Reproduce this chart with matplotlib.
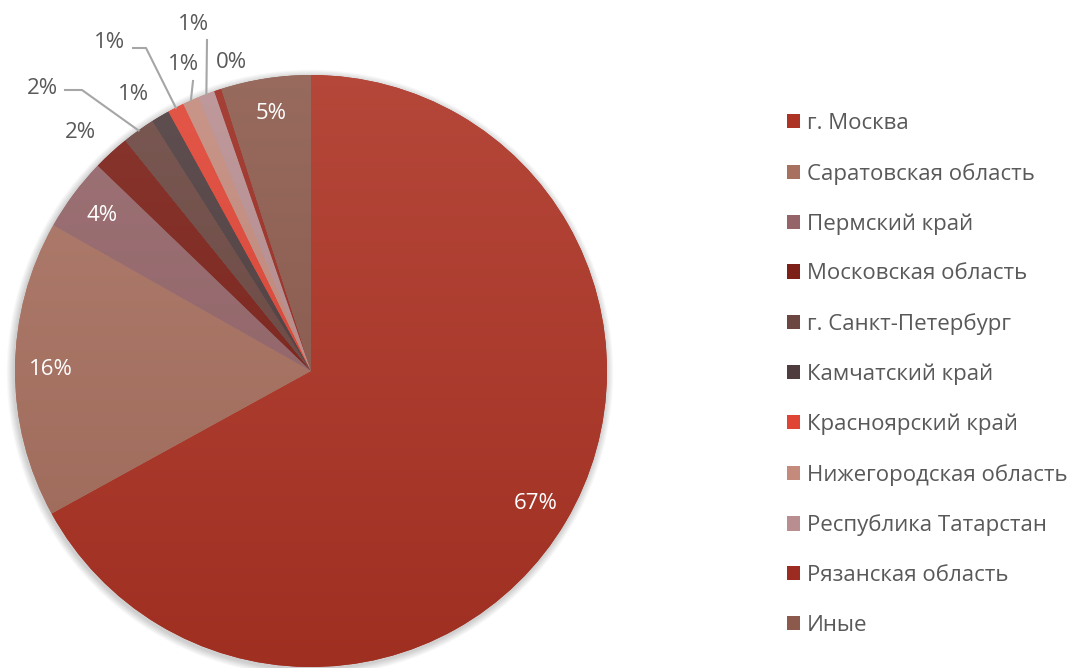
import numpy as np
import matplotlib.pyplot as plt
import matplotlib.colors as mcolors

plt.rcParams['font.family'] = ['Open Sans', 'DejaVu Sans']

regions = ['г. Москва', 'Саратовская область', 'Пермский край', 'Московская область',
           'г. Санкт-Петербург', 'Камчатский край', 'Красноярский край',
           'Нижегородская область', 'Республика Татарстан', 'Рязанская область', 'Иные']
shares = [67.0, 16.2, 4.0, 2.0, 1.8, 1.0, 0.9, 0.9, 0.9, 0.4, 4.9]
colors = ['#ad3324', '#a8705f', '#946468', '#7c2018', '#6c4640', '#4e3c3e',
          '#e04434', '#c48a7c', '#b88e90', '#9c2c22', '#8c5a4c']

# labels inside the slices (white) and outside ones with their text positions (px)
inside = {0, 1, 2, 10}
outside_pos = {3: (80, 132), 4: (42, 88), 5: (133, 95), 6: (110, 42),
               7: (183, 65), 8: (193, 25), 9: (231, 62)}
# elbows of the leader lines (px), text anchor then bend
leaders = {4: [(65, 90), (82, 90)], 6: [(133, 48), (146, 48)],
           7: [(193, 81)], 8: [(207, 40)]}

W, H = 1085, 668
cx, cy, r = 311, H - 371, 296
fs = 16

fig = plt.figure(figsize=(W / 100, H / 100), dpi=100)
ax = fig.add_axes([0, 0, 1, 1])

# soft shadow round the pie
for k in range(8):
    ax.add_patch(plt.Circle((cx - 1, cy - 2), r + 1 + k * 0.9, color='#000000',
                            alpha=0.025, lw=0, zorder=0))

wedges, _ = ax.pie(shares, colors=colors, startangle=90, counterclock=False,
                   center=(cx, cy), radius=r,
                   wedgeprops=dict(linewidth=0))

# vertical shading on every slice: lighter on top, darker at the bottom
t = np.linspace(0, 1, 256)[:, None]
for w, c in zip(wedges, colors):
    rgb = np.array(mcolors.to_rgb(c))
    top = rgb + (1 - rgb) * 0.10
    bot = rgb * 0.92
    grad = top[None, None, :] * (1 - t[..., None]) + bot[None, None, :] * t[..., None]
    grad = np.repeat(grad, 2, axis=1)
    im = ax.imshow(grad, extent=(cx - r, cx + r, cy - r, cy + r), origin='upper',
                   zorder=2, interpolation='bilinear', aspect='auto')
    im.set_clip_path(w)

cum = np.cumsum([0] + shares)
total = cum[-1]
for i, v in enumerate(shares):
    mid = np.deg2rad((cum[i] + cum[i + 1]) / 2 / total * 360)
    txt = f'{v:.0f}%'
    if i in inside:
        ax.text(cx + 0.88 * r * np.sin(mid), cy + 0.88 * r * np.cos(mid), txt,
                color='white', fontsize=fs, ha='center', va='center', zorder=5)
    else:
        tx, ty = outside_pos[i]
        ax.text(tx, H - ty, txt, color='#595959', fontsize=fs,
                ha='center', va='center', zorder=5)
        if i in leaders:
            pts = [(x, H - y) for x, y in leaders[i]]
            pts.append((cx + r * np.sin(mid), cy + r * np.cos(mid)))
            xs, ys = zip(*pts)
            ax.plot(xs, ys, color='#a6a6a6', lw=1.5, zorder=4)

leg = ax.legend(wedges, regions, loc='upper left', bbox_to_anchor=(787 / W, 1 - 113 / H),
                frameon=False, fontsize=fs, handlelength=0.6, handleheight=0.6,
                handletextpad=0.3, labelspacing=1.29, borderpad=0, borderaxespad=0)
for txt in leg.get_texts():
    txt.set_color('#595959')

ax.set_xlim(0, W)
ax.set_ylim(0, H)
ax.axis('off')

fig.savefig('out.png', dpi=100)
